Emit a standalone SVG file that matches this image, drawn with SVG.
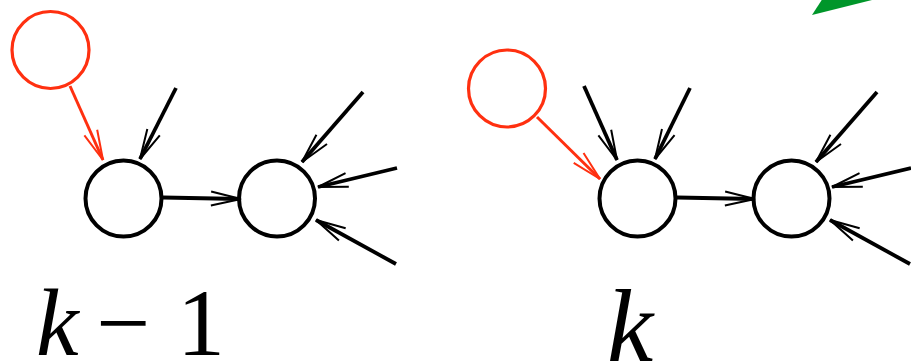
<svg xmlns="http://www.w3.org/2000/svg" width="911" height="364" viewBox="0 0 911 364">
  <style>
    .node { fill: none; stroke: #000; stroke-width: 4; }
    .seed { fill: none; stroke: #ff3010; stroke-width: 3.2; }
    .edge { fill: none; stroke: #000; stroke-width: 3.8; marker-end: url(#vee); }
    .edge-red { fill: none; stroke: #ff3010; stroke-width: 3; marker-end: url(#vee-red); }
    .lbl { font-family: "Liberation Serif", "DejaVu Serif", serif; fill: #000; }
  </style>
  <defs>
    <marker id="vee" markerUnits="userSpaceOnUse" orient="auto" markerWidth="40" markerHeight="20" refX="0" refY="0" viewBox="-34 -10 40 20" overflow="visible">
      <path d="M-30,-7 L0,0 L-30,7" fill="none" stroke="#000" stroke-width="2"/>
    </marker>
    <marker id="vee-red" markerUnits="userSpaceOnUse" orient="auto" markerWidth="40" markerHeight="20" refX="0" refY="0" viewBox="-34 -10 40 20" overflow="visible">
      <path d="M-30,-7 L0,0 L-30,7" fill="none" stroke="#ff3010" stroke-width="2"/>
    </marker>
  </defs>

  <!-- tip of a green pointer at the top edge -->
  <polygon points="812,15 823,-2 880,-2" fill="#00962a"/>

  <!-- step k-1 -->
  <g id="seed-km1"><circle class="seed" cx="50.5" cy="50" r="38.5"/></g>
  <g id="node-a-km1"><circle class="node" cx="123.5" cy="198.5" r="38"/></g>
  <g id="node-b-km1"><circle class="node" cx="277" cy="198.5" r="38"/></g>

  <!-- step k -->
  <g id="seed-k"><circle class="seed" cx="507" cy="88.5" r="38.5"/></g>
  <g id="node-a-k"><circle class="node" cx="637.5" cy="198.5" r="38"/></g>
  <g id="node-b-k"><circle class="node" cx="791.5" cy="198.5" r="38"/></g>

  <g id="connectors">
    <!-- step k-1 -->
    <line class="edge-red" x1="70" y1="86" x2="103" y2="160"/>
    <line class="edge" x1="163" y1="197.5" x2="241" y2="199"/>
    <line class="edge" x1="176" y1="88" x2="140" y2="159"/>
    <line class="edge" x1="363" y1="92" x2="302" y2="162"/>
    <line class="edge" x1="397" y1="168" x2="318" y2="187"/>
    <line class="edge" x1="396" y1="264" x2="316" y2="220"/>
    <!-- step k -->
    <line class="edge-red" x1="537" y1="117" x2="600" y2="179"/>
    <line class="edge" x1="677" y1="197.5" x2="755" y2="199"/>
    <line class="edge" x1="584" y1="86" x2="617" y2="160"/>
    <line class="edge" x1="690" y1="88" x2="655" y2="159"/>
    <line class="edge" x1="877" y1="92" x2="816" y2="162"/>
    <line class="edge" x1="911" y1="168" x2="832" y2="187"/>
    <line class="edge" x1="910" y1="264" x2="830" y2="220"/>
  </g>

  <!-- step labels -->
  <g id="label-km1" class="lbl" font-size="96">
    <text font-style="italic" x="36" y="355">k</text>
    <text x="96" y="355">−</text>
    <text x="177" y="355">1</text>
  </g>
  <g id="label-k" class="lbl" font-size="104">
    <text font-style="italic" x="607" y="361">k</text>
  </g>
</svg>
